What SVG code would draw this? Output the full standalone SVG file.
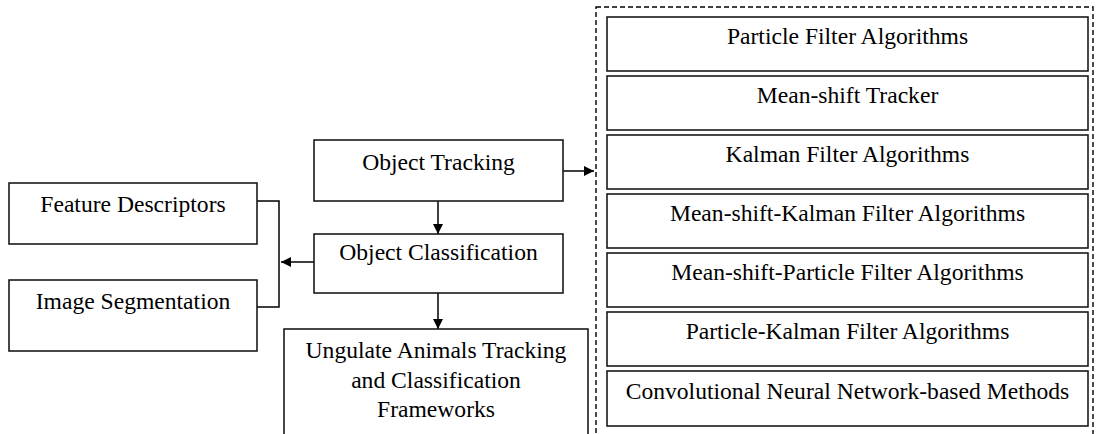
<svg xmlns="http://www.w3.org/2000/svg" width="1098" height="434" viewBox="0 0 1098 434">
<defs>
<marker id="ah" viewBox="0 0 10 10" refX="10" refY="5" markerWidth="10" markerHeight="10" markerUnits="userSpaceOnUse" orient="auto">
<path d="M0,0 L10,5 L0,10 z" fill="#000"/>
</marker>
<style>
.box{fill:#fff;stroke:#1a1a1a;stroke-width:1.6}
.t{font-family:"Liberation Serif","Times New Roman",serif;font-size:23.6px;fill:#000;text-anchor:middle}
.c{fill:none;stroke:#000;stroke-width:1.5}
.dash{fill:none;stroke:#000;stroke-width:1.4;stroke-dasharray:5 3}
</style>
</defs>
<rect width="1098" height="434" fill="#fff"/>
<rect class="dash" x="596" y="7" width="497" height="440"/>
<g id="connectors">
<polyline class="c" points="257,201 279,201 279,307 257,307"/>
<line class="c" x1="314" y1="262" x2="281" y2="262" marker-end="url(#ah)"/>
<line class="c" x1="563" y1="171" x2="594" y2="171" marker-end="url(#ah)"/>
<line class="c" x1="438" y1="201" x2="438" y2="234" marker-end="url(#ah)"/>
<line class="c" x1="438" y1="293" x2="438" y2="329" marker-end="url(#ah)"/>
</g>
<g id="feature-descriptors"><rect class="box" x="9" y="183" width="248" height="61"/><text class="t" x="133" y="212">Feature Descriptors</text></g>
<g id="image-segmentation"><rect class="box" x="9" y="280" width="248" height="71"/><text class="t" x="133" y="309">Image Segmentation</text></g>
<g id="object-tracking"><rect class="box" x="314" y="140" width="249" height="61"/><text class="t" x="438.5" y="170">Object Tracking</text></g>
<g id="object-classification"><rect class="box" x="314" y="234" width="249" height="59"/><text class="t" x="438.5" y="260">Object Classification</text></g>
<g id="ungulate"><rect class="box" x="284" y="329" width="304" height="120"/><text class="t" x="436" y="358">Ungulate Animals Tracking</text><text class="t" x="436" y="388">and Classification</text><text class="t" x="436" y="417">Frameworks</text></g>
<g id="particle-filter"><rect class="box" x="607" y="17" width="481" height="54"/><text class="t" x="847.5" y="44">Particle Filter Algorithms</text></g>
<g id="mean-shift"><rect class="box" x="607" y="76" width="481" height="54"/><text class="t" x="847.5" y="103">Mean-shift Tracker</text></g>
<g id="kalman"><rect class="box" x="607" y="135" width="481" height="54"/><text class="t" x="847.5" y="162">Kalman Filter Algorithms</text></g>
<g id="mean-shift-kalman"><rect class="box" x="607" y="194" width="481" height="54"/><text class="t" x="847.5" y="221">Mean-shift-Kalman Filter Algorithms</text></g>
<g id="mean-shift-particle"><rect class="box" x="607" y="253" width="481" height="54"/><text class="t" x="847.5" y="280">Mean-shift-Particle Filter Algorithms</text></g>
<g id="particle-kalman"><rect class="box" x="607" y="312" width="481" height="54"/><text class="t" x="847.5" y="339">Particle-Kalman Filter Algorithms</text></g>
<g id="cnn"><rect class="box" x="607" y="371" width="481" height="55"/><text class="t" x="847.5" y="399">Convolutional Neural Network-based Methods</text></g>
</svg>
